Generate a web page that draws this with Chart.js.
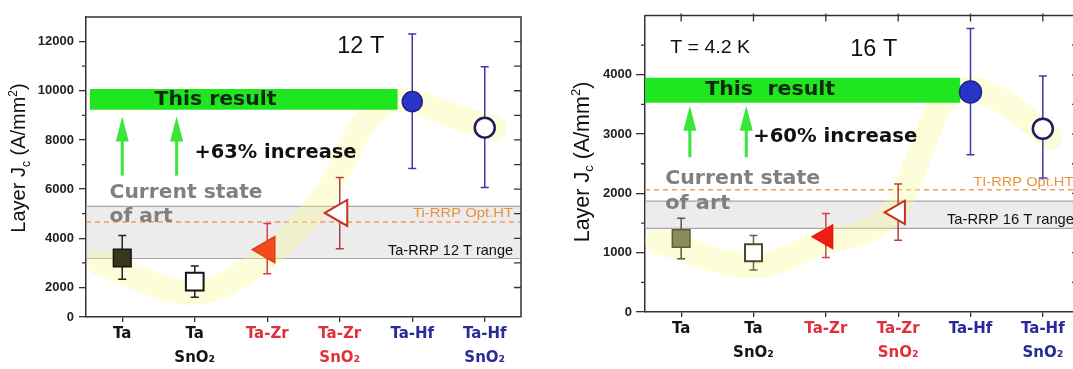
<!DOCTYPE html>
<html>
<head>
<meta charset="utf-8">
<script src="https://cdn.jsdelivr.net/npm/chart.js@4.4.1/dist/chart.umd.min.js"></script>
<style>
  html, body { margin: 0; padding: 0; background: #fff; overflow: hidden; width: 1073px; height: 369px; }
  #left { position: absolute; left: 0; top: 0; }
  #right { position: absolute; left: 540px; top: 0; }
</style>
</head>
<body>
<canvas id="left" width="540" height="369"></canvas>
<canvas id="right" width="560" height="369"></canvas>
<script>
// Categorías del eje x (dos líneas cuando hay SnO2)
const categories = [['Ta'], ['Ta', 'SnO₂'], ['Ta-Zr'], ['Ta-Zr', 'SnO₂'], ['Ta-Hf'], ['Ta-Hf', 'SnO₂']];
const catColors = ['#151515', '#151515', '#e0303c', '#e0303c', '#2a2a9c', '#2a2a9c'];

// 12 T: Jc de capa y barras de error
const jc12 = [3200, 2240, 3540, 5030, 9560, 8500];
const jc12Lo = [2340, 1600, 2560, 3580, 6840, 6070];
const jc12Hi = [4110, 2870, 4600, 6470, 12310, 10980];

// 16 T
const jc16 = [1240, 1000, 1270, 1680, 3710, 3090];
const jc16Lo = [900, 710, 920, 1210, 2650, 2260];
const jc16Hi = [1580, 1290, 1660, 2160, 4780, 3980];

// Bandas de referencia
const range12 = [3180, 5300];     // Ta-RRP 12 T range
const optHT12 = 4660;             // Ti-RRP Opt.HT
const result12 = [9230, 10070];   // This result
const range16 = [1410, 1870];
const optHT16 = 2060;
const result16 = [3530, 3950];

// Banda amarilla (guía)
const guide12X = [-0.31, 0.97, 2.0, 2.82, 3.34, 3.77, 4.0, 4.47, 5.13];
const guide12Y = [2990, 1790, 3270, 5870, 8700, 9650, 9590, 9070, 8470];
const guide16X = [-0.33, 1.0, 1.92, 2.99, 3.31, 3.58, 4.0, 4.48, 5.1];
const guide16Y = [1195, 778, 1162, 1778, 2695, 3500, 3760, 3528, 2945];

// Ticks de los ejes y
const yTicks12 = [800, 2000, 4000, 6000, 8000, 10000, 12000];
const yMinor12 = [3000, 5000, 7000, 9000, 11000];
const yTicks16 = [0, 1000, 2000, 3000, 4000];
const yMinor16 = [500, 1500, 2500, 3500, 4500];

const SANS = '"Liberation Sans", Arial, sans-serif';
const HEAVY = '"DejaVu Sans", sans-serif';

// Dibuja texto con ancho objetivo (estira en x)
function drawNote(ctx, n, xs, ys) {
    ctx.save();
    ctx.font = n.font;
    ctx.fillStyle = n.color;
    ctx.textBaseline = 'middle';
    ctx.textAlign = 'left';
    const m = ctx.measureText(n.text).width;
    const sx = n.w ? n.w / m : 1;
    const w = m * sx;
    let px = xs.getPixelForValue(n.x);
    const py = ys.getPixelForValue(n.y);
    if (n.align === 'center') px -= w / 2;
    else if (n.align === 'right') px -= w;
    ctx.translate(px, py);
    ctx.scale(sx, 1);
    ctx.fillText(n.text, 0, 0);
    ctx.restore();
}

function drawArrow(ctx, a, xs, ys) {
    const x = xs.getPixelForValue(a.x);
    const y0 = ys.getPixelForValue(a.from);
    const y1 = ys.getPixelForValue(a.to);
    ctx.save();
    ctx.fillStyle = '#3be63b';
    ctx.fillRect(x - 1.5, y1 + 20, 3, y0 - y1 - 20);
    ctx.beginPath();
    ctx.moveTo(x, y1);
    ctx.lineTo(x + 6.5, y1 + 25);
    ctx.lineTo(x - 6.5, y1 + 25);
    ctx.closePath();
    ctx.fill();
    ctx.restore();
}

// Título del eje y con subíndice y superíndice
function drawYTitle(ctx, cx, cy, size) {
    const parts = [
        { t: 'Layer J' }, { t: 'c', sub: true }, { t: ' (A/mm' }, { t: '2', sup: true }, { t: ')' }
    ];
    ctx.save();
    ctx.translate(cx, cy);
    ctx.rotate(-Math.PI / 2);
    ctx.fillStyle = '#111';
    ctx.textBaseline = 'alphabetic';
    const fontFor = p => (p.sub || p.sup ? Math.round(size * 0.62) : size) + 'px ' + SANS;
    let total = 0;
    parts.forEach(p => { ctx.font = fontFor(p); total += ctx.measureText(p.t).width; });
    let x = -total / 2;
    const base = size * 0.36;
    parts.forEach(p => {
        ctx.font = fontFor(p);
        let dy = base;
        if (p.sub) dy += size * 0.22;
        if (p.sup) dy -= size * 0.42;
        ctx.fillText(p.t, x, dy);
        x += ctx.measureText(p.t).width;
    });
    ctx.restore();
}

function makePanel(canvasId, p) {
    const markerData = p.values.map((v, i) => ({ x: i, y: v }));
    const line = (y0, x0 = -0.5, x1 = 5.5) => [{ x: x0, y: y0 }, { x: x1, y: y0 }];

    const panelPlugin = {
        id: 'panel_' + canvasId,
        beforeDatasetDraw(chart, args) {
            if (args.index !== 7) return;
            // barras de error, debajo de los marcadores
            const { ctx, scales: { x: xs, y: ys } } = chart;
            ctx.save();
            ctx.lineWidth = 1.5;
            p.values.forEach((v, i) => {
                const px = xs.getPixelForValue(i);
                const lo = ys.getPixelForValue(p.lo[i]);
                const hi = ys.getPixelForValue(p.hi[i]);
                ctx.strokeStyle = p.errColors[i];
                ctx.beginPath();
                ctx.moveTo(px, lo); ctx.lineTo(px, hi);
                ctx.moveTo(px - 4, lo); ctx.lineTo(px + 4, lo);
                ctx.moveTo(px - 4, hi); ctx.lineTo(px + 4, hi);
                ctx.stroke();
            });
            ctx.restore();
        },
        afterDatasetsDraw(chart) {
            const { ctx, scales: { x: xs, y: ys } } = chart;
            p.arrows.forEach(a => drawArrow(ctx, a, xs, ys));
            p.notes.forEach(n => drawNote(ctx, n, xs, ys));
        },
        afterDraw(chart) {
            const { ctx, chartArea: a, scales: { x: xs, y: ys } } = chart;
            ctx.save();
            ctx.strokeStyle = '#333';
            ctx.lineWidth = 1.5;
            ctx.beginPath();
            ctx.moveTo(a.left, a.top); ctx.lineTo(a.right, a.top); ctx.lineTo(a.right, a.bottom);
            ctx.stroke();
            ctx.lineWidth = 1.3;
            ctx.beginPath();
            p.minor.forEach(v => {
                const y = ys.getPixelForValue(v);
                ctx.moveTo(a.left - 4, y); ctx.lineTo(a.left, y);
            });
            p.rightTicks.forEach(v => {
                const y = ys.getPixelForValue(v);
                ctx.moveTo(a.right - 7, y); ctx.lineTo(a.right, y);
            });
            if (p.topTicks) {
                categories.forEach((c, i) => {
                    const x = xs.getPixelForValue(i);
                    ctx.moveTo(x, a.top - 2); ctx.lineTo(x, a.top + 6);
                });
            }
            ctx.stroke();
            ctx.restore();
            drawYTitle(ctx, p.titleX, p.titleY, p.titleSize);
        }
    };

    return new Chart(document.getElementById(canvasId), {
        data: {
            datasets: [
                { type: 'line', data: line(p.range[1]), borderColor: '#a8a8a8', borderWidth: 1.2, pointRadius: 0, fill: '+1', backgroundColor: 'rgba(200,200,200,0.35)', order: 50 },
                { type: 'line', data: line(p.range[0]), borderColor: '#a8a8a8', borderWidth: 1.2, pointRadius: 0, fill: false, order: 49 },
                { type: 'line', data: line(p.optHT), borderColor: '#f0a060', borderWidth: 1.5, borderDash: [5, 4], pointRadius: 0, fill: false, order: 48 },
                { type: 'line', data: p.guideX.map((x, i) => ({ x, y: p.guideY[i] })), borderColor: 'rgba(252,248,140,0.32)', borderWidth: 25, borderCapStyle: 'round', borderJoinStyle: 'round', cubicInterpolationMode: 'monotone', pointRadius: 0, fill: false, order: 40 },
                { type: 'line', data: line(p.result[1], p.resultX[0], p.resultX[1]), borderWidth: 0, pointRadius: 0, fill: '+1', backgroundColor: '#20e620', order: 30 },
                { type: 'line', data: line(p.result[0], p.resultX[0], p.resultX[1]), borderWidth: 0, pointRadius: 0, fill: false, order: 29 },
                { type: 'line', data: [], pointRadius: 0, order: 28 },
                {
                    type: 'scatter', data: markerData, showLine: false, order: 1,
                    pointStyle: ['rect', 'rect', 'triangle', 'triangle', 'circle', 'circle'],
                    pointRotation: [0, 0, -90, -90, 0, 0],
                    pointRadius: p.radius,
                    pointBackgroundColor: p.fill,
                    pointBorderColor: p.stroke,
                    pointBorderWidth: [1.5, 2, 1.5, 2, 1.5, 2.5]
                }
            ]
        },
        options: {
            responsive: false,
            animation: false,
            layout: { padding: { top: 12, right: p.padRight, left: 0, bottom: 0 } },
            plugins: { legend: { display: false }, tooltip: { enabled: false } },
            scales: {
                x: {
                    type: 'linear', min: -0.5, max: 5.5,
                    afterBuildTicks: s => { s.ticks = categories.map((c, i) => ({ value: i })); },
                    afterFit: s => { s.height = p.xH; },
                    ticks: {
                        callback: (v, i) => categories[i],
                        color: c => catColors[c.index],
                        font: { family: HEAVY, size: 15, weight: 'bold', lineHeight: 1.6 },
                        padding: 0, maxRotation: 0, autoSkip: false
                    },
                    grid: { drawOnChartArea: false, tickLength: 5, color: '#333', lineWidth: 1.3 },
                    border: { display: true, color: '#333', width: 1.5 }
                },
                y: {
                    type: 'linear', min: p.yMin, max: p.yMax,
                    afterBuildTicks: s => { s.ticks = p.yTicks.map(v => ({ value: v })); },
                    afterFit: s => { s.width = p.yW; },
                    ticks: {
                        callback: v => (v === p.yMin ? '0' : String(v)),
                        font: { family: SANS, size: 13, weight: 'bold' },
                        color: '#222', padding: p.yPad
                    },
                    grid: { drawOnChartArea: false, tickLength: p.yTick, color: '#333', lineWidth: 1.3 },
                    border: { display: true, color: '#333', width: 1.5 }
                }
            }
        },
        plugins: [panelPlugin]
    });
}

// Panel 12 T
makePanel('left', {
    values: jc12, lo: jc12Lo, hi: jc12Hi,
    range: range12, optHT: optHT12, result: result12, resultX: [-0.45, 3.8],
    guideX: guide12X, guideY: guide12Y,
    yMin: 800, yMax: 13000, yTicks: yTicks12, minor: yMinor12,
    rightTicks: [2000, 3000, 4000, 5000, 6000, 7000, 8000, 9000, 10000, 11000, 12000],
    topTicks: false,
    yW: 86, xH: 52, padRight: 19, yPad: 5, yTick: 7,
    titleX: 18, titleY: 158, titleSize: 20,
    radius: [12.5, 12.5, 15, 15, 10, 10],
    fill: ['#37371a', '#ffffff', '#f04a1e', '#ffffff', '#2a35c5', '#ffffff'],
    stroke: ['#151515', '#151515', '#e03a1a', '#c8301e', '#1c2090', '#1e1e64'],
    errColors: ['#222', '#222', '#d04050', '#b04048', '#3a3aa8', '#3a3aa8'],
    arrows: [{ x: 0, from: 6550, to: 8950 }, { x: 0.75, from: 6550, to: 8950 }],
    notes: [
        { text: '12 T', x: 3.29, y: 11790, font: '23px ' + SANS, color: '#111', align: 'center', w: 47 },
        { text: 'This result', x: 0.445, y: 9630, font: 'bold 19px ' + HEAVY, color: '#0f2a0f', w: 122 },
        { text: '+63% increase', x: 0.997, y: 7470, font: 'bold 19px ' + HEAVY, color: '#111', w: 162 },
        { text: 'Current state', x: -0.175, y: 5870, font: 'bold 20px ' + HEAVY, color: '#808080', w: 153 },
        { text: 'of art', x: -0.175, y: 4870, font: 'bold 20px ' + HEAVY, color: '#808080', w: 63 },
        { text: 'Ti-RRP Opt.HT', x: 5.39, y: 5000, font: '13px ' + SANS, color: '#e8923c', align: 'right', w: 100 },
        { text: 'Ta-RRP 12 T range', x: 5.39, y: 3510, font: '15px ' + SANS, color: '#111', align: 'right', w: 125 }
    ]
});

// Panel 16 T
makePanel('right', {
    values: jc16, lo: jc16Lo, hi: jc16Hi,
    range: range16, optHT: optHT16, result: result16, resultX: [-0.5, 3.86],
    guideX: guide16X, guideY: guide16Y,
    yMin: 0, yMax: 5000, yTicks: yTicks16, minor: yMinor16,
    rightTicks: [500, 1000, 1500, 2000, 2500, 3000, 3500, 4000, 4500],
    topTicks: true,
    yW: 105, xH: 57, padRight: 21, yPad: 4, yTick: 9,
    titleX: 41, titleY: 162, titleSize: 21.5,
    radius: [12.5, 12, 13.5, 13.5, 11, 10],
    fill: ['#8c8b5e', '#ffffff', '#f01e12', '#ffffff', '#2a35c5', '#ffffff'],
    stroke: ['#5e5d3a', '#4a4a2a', '#e01a10', '#c8301e', '#1c2090', '#1e1e64'],
    errColors: ['#5a5a3a', '#6a6a4a', '#d04050', '#b04048', '#3a3aa8', '#3a3aa8'],
    arrows: [{ x: 0.12, from: 2610, to: 3480 }, { x: 0.9, from: 2610, to: 3480 }],
    notes: [
        { text: 'T = 4.2 K', x: -0.152, y: 4445, font: '18px ' + SANS, color: '#111', w: 80 },
        { text: '16 T', x: 2.663, y: 4417, font: '23px ' + SANS, color: '#111', align: 'center', w: 47 },
        { text: 'This  result', x: 0.332, y: 3750, font: 'bold 19px ' + HEAVY, color: '#0f2a0f', w: 130 },
        { text: '+60% increase', x: 0.996, y: 2945, font: 'bold 19px ' + HEAVY, color: '#111', w: 164 },
        { text: 'Current state', x: -0.221, y: 2250, font: 'bold 20px ' + HEAVY, color: '#808080', w: 155 },
        { text: 'of art', x: -0.221, y: 1823, font: 'bold 20px ' + HEAVY, color: '#808080', w: 65 },
        { text: 'TI-RRP Opt.HT', x: 4.039, y: 2183, font: '13px ' + SANS, color: '#e8923c', w: 100 },
        { text: 'Ta-RRP 16 T range', x: 3.675, y: 1557, font: '15px ' + SANS, color: '#111', w: 127 }
    ]
});
</script>
</body>
</html>
